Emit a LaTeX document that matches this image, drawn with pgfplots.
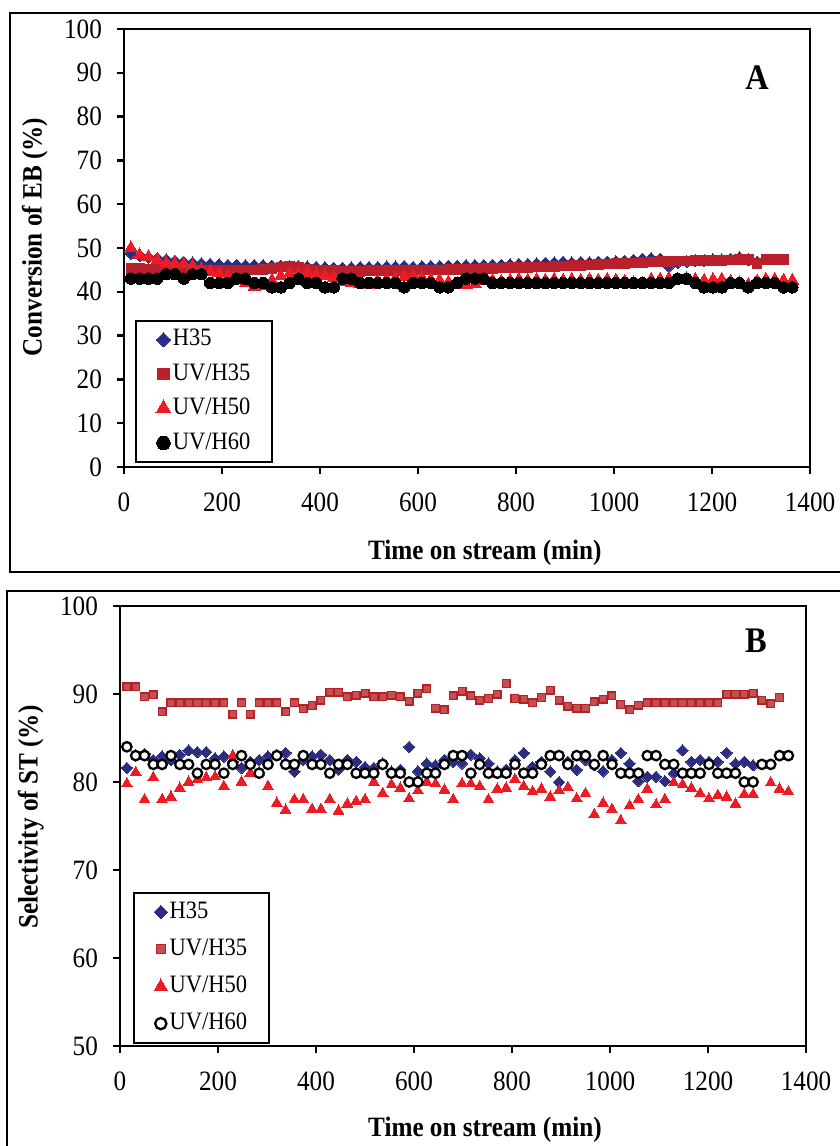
\documentclass[border=0pt]{standalone}
\usepackage{fontspec}
\setmainfont{Liberation Serif}[FakeStretch=0.9]
\usepackage{pgfplots}
\pgfplotsset{compat=1.18}
\usepackage{pgfplotstable}

\definecolor{hnavy}{RGB}{43,45,128}
\definecolor{uvsq}{RGB}{185,32,43}
\definecolor{uvsqfill}{RGB}{196,80,80}
\definecolor{uvsqdraw}{RGB}{178,34,40}
\definecolor{uvtri}{RGB}{237,28,36}

\pgfplotstableread{
t h35 uvh35 uvh50 uvh60
14 48.8 45.3 50.0 43
32 48.3 45.3 48.4 43
50 47.9 45.2 48.0 43
68 47.6 45.2 47.3 43
86 47.3 45.1 46.6 44
104 47.0 45.1 46.4 44
122 46.8 45.0 46.3 43
140 46.6 45.0 45.9 44
158 46.4 45.0 45.2 44
176 46.3 45.0 44.6 42
194 46.2 44.9 44.2 42
212 46.1 44.9 43.5 42
230 46.1 45.0 43.0 43
248 46.0 45.0 42.0 43
266 46.0 45.0 41.2 42
284 46.0 45.1 41.4 42
302 45.9 45.3 42.6 41
320 45.9 45.7 43.6 41
338 45.8 45.9 44.2 42
356 45.8 45.6 44.0 43
374 45.7 45.2 44.4 42
392 45.6 45.0 43.8 42
410 45.5 44.9 43.6 41
428 45.4 44.8 43.2 41
446 45.4 44.7 42.2 43
464 45.5 44.7 42.0 43
482 45.6 44.7 41.8 42
500 45.6 44.8 41.6 42
518 45.6 44.8 42.4 42
536 45.7 44.8 42.8 42
554 45.7 44.9 43.0 42
572 45.8 44.9 43.4 41
590 45.6 44.9 43.6 42
608 45.7 45.0 43.2 42
626 45.8 45.0 42.8 42
644 45.8 45.0 42.6 41
662 45.9 45.1 42.2 41
680 45.9 45.1 41.8 42
698 46.0 45.1 41.6 43
716 46.0 45.2 41.8 43
734 46.0 45.3 42.4 43
752 46.1 45.3 42.6 42
770 46.1 45.4 42.4 42
788 46.2 45.5 42.6 42
806 46.3 45.5 42.8 42
824 46.3 45.6 42.6 42
842 46.4 45.7 42.8 42
860 46.5 45.7 42.6 42
878 46.6 45.8 42.8 42
896 46.8 45.9 42.6 42
914 46.6 46.0 42.8 42
932 46.7 46.0 42.6 42
950 46.7 46.1 42.8 42
968 46.8 46.2 42.6 42
986 46.8 46.3 42.8 42
1004 46.9 46.4 42.6 42
1022 47.0 46.5 42.4 42
1040 47.2 46.6 42.0 42
1058 47.5 46.7 41.8 42
1076 47.6 46.8 42.8 42
1094 47.5 46.9 42.8 42
1112 45.8 46.9 43.0 42
1130 46.7 47.0 42.8 43
1148 46.9 47.0 43.0 43
1166 47.1 47.1 42.8 42
1184 47.1 47.1 42.6 41
1202 47.3 47.2 42.8 41
1220 47.3 47.2 42.8 41
1238 47.5 47.3 42.4 42
1256 47.8 47.4 42.0 42
1274 47.3 47.4 41.6 41
1292 46.8 46.5 42.4 42
1310 nan 47.4 42.8 42
1328 nan 47.4 42.8 42
1346 nan 47.4 42.6 41
1364 nan nan 42.6 41
}\dataA

\pgfplotstableread{
t h35 uvh35 uvh50 uvh60
14 81.6 90.8 79.8 84
32 83.0 90.8 81.1 83
50 83.2 89.7 78.0 83
68 82.5 89.9 80.5 82
86 82.9 88.0 78.0 82
104 82.5 89.0 78.3 83
122 83.1 89.0 79.3 82
140 83.6 89.0 80.0 82
158 83.4 89.0 80.3 81
176 83.4 89.0 80.5 82
194 82.7 89.0 80.6 82
212 82.9 89.0 79.5 81
230 82.3 87.7 83.0 82
248 81.6 89.0 80.0 83
266 82.3 87.7 81.0 82
284 82.5 89.0 81.1 81
302 82.9 89.0 79.5 82
320 83.1 89.0 77.6 83
338 83.3 88.0 76.8 82
356 81.2 89.0 78.0 82
374 82.5 88.3 78.0 83
392 82.9 88.7 76.9 82
410 83.1 89.3 76.9 82
428 82.5 90.2 78.0 81
446 81.4 90.2 76.7 82
464 82.5 89.7 77.5 82
482 82.3 89.85 77.8 81
500 81.7 90.1 78.0 81
518 81.6 89.7 80.0 81
536 82.1 89.7 78.7 82
554 81.2 89.85 79.7 81
572 81.4 89.7 79.3 81
590 84.0 89.2 78.1 80
608 81.2 90.1 79.0 80
626 82.1 90.6 80.0 81
644 81.9 88.4 79.8 81
662 82.5 88.2 79.1 82
680 82.3 89.8 78.0 83
698 82.1 90.3 79.8 83
716 83.1 89.8 79.8 81
734 82.7 89.3 79.5 82
752 82.1 89.5 78.0 81
770 81.2 90.0 79.2 81
788 81.4 91.2 79.3 81
806 82.5 89.5 80.3 82
824 83.3 89.4 79.5 81
842 81.7 89.0 78.9 81
860 82.3 89.6 79.2 82
878 81.2 90.45 78.3 83
896 80.0 89.3 79.0 83
914 82.3 88.6 79.4 82
932 81.4 88.4 78.1 83
950 82.5 88.4 78.7 83
968 81.9 89.1 76.3 82
986 81.2 89.4 77.6 83
1004 82.5 89.8 76.9 82
1022 83.3 88.8 75.6 81
1040 82.1 88.2 77.3 81
1058 80.1 88.75 78.0 81
1076 80.6 89.0 79.2 83
1094 80.6 89.0 77.4 83
1112 80.1 89.0 78.0 82
1130 81.0 89.0 79.9 82
1148 83.6 89.0 79.7 81
1166 82.3 89.0 79.3 81
1184 82.5 89.0 78.7 81
1202 82.3 89.0 78.1 82
1220 82.3 89.0 78.5 81
1238 83.3 90.0 78.3 81
1256 82.1 90.0 77.5 81
1274 82.3 90.0 78.6 80
1292 81.9 90.1 78.6 80
1310 nan 89.3 nan 82
1328 nan 88.9 79.9 82
1346 nan 89.6 79.2 83
1364 nan nan 78.9 83
}\dataB

\pgfplotsset{
  panel/.style={
    scale only axis, width=343pt,
    xmin=0, xmax=1400, xtick={0,200,...,1400},
    xtick pos=bottom, ytick pos=left, tick align=outside,
    major tick length=3.5pt,
    axis line style={line width=1.4pt},
    every tick/.style={line width=1.2pt, black},
    /pgf/number format/assume math mode=true,
    /pgf/number format/1000 sep={},
    tick label style={font=\fontsize{14}{14}\selectfont},
    xticklabel style={yshift=-6pt},
    yticklabel style={xshift=-4pt},
    xlabel={Time on stream (min)},
    legend cell align=left,
    legend image code/.code={\draw[##1, every mark/.append style={scale=1.2}] plot coordinates {(0.14cm,0cm)};},
    legend style={draw=black, line width=1pt, anchor=north west,
      font=\fontsize{12.5}{12.5}\selectfont, inner xsep=10pt, inner ysep=3pt,
      row sep=4.2pt, nodes={inner sep=1pt, text height=8.5pt, text depth=2.5pt}},
  },
}

\begin{document}
\begin{tikzpicture}
\useasboundingbox (0,0) rectangle (420pt,573pt);
\draw[line width=1pt] (5pt,287pt) rectangle (435pt,566.5pt);
\draw[line width=1pt] (3.5pt,-10pt) rectangle (435pt,277.5pt);

\begin{axis}[panel, at={(62pt,339.5pt)}, anchor=south west, height=219pt,
  ymin=0, ymax=100, ytick={0,10,...,100},
  ylabel={Conversion of EB (\%)},
  every axis y label/.style={at={(axis description cs:-0.13,0.525)}, rotate=90, anchor=center, font=\bfseries\fontsize{14}{14}\selectfont},
  every axis x label/.style={at={(axis description cs:0.526,-0.196)}, anchor=center, font=\bfseries\fontsize{14}{14}\selectfont},
  legend style={at={(axis description cs:0.016,0.336)}},
]
\addplot[only marks, mark=square*, mark size=2.1pt, mark options={rotate=45, fill=hnavy, draw=hnavy, line width=0pt}] table[x=t,y=h35] {\dataA};
\addplot[only marks, mark=square*, mark size=2.4pt, mark options={fill=uvsq, draw=uvsq, line width=0pt}] table[x=t,y=uvh35] {\dataA};
\addplot[only marks, mark=triangle*, mark size=3.6pt, mark options={fill=uvtri, draw=uvtri, line width=0pt}] table[x=t,y=uvh50] {\dataA};
\addplot[only marks, mark=*, mark size=2.85pt, mark options={fill=black, draw=black, line width=0pt}] table[x=t,y=uvh60] {\dataA};
\legend{H35,UV/H35,UV/H50,UV/H60}
\node[font=\bfseries\fontsize{18}{18}\selectfont] at (axis description cs:0.923,0.888) {A};
\end{axis}

\begin{axis}[panel, at={(60pt,50pt)}, anchor=south west, height=220pt,
  ymin=50, ymax=100, ytick={50,60,...,100},
  ylabel={Selectivity of ST (\%)},
  every axis y label/.style={at={(axis description cs:-0.13,0.52)}, rotate=90, anchor=center, font=\bfseries\fontsize{14}{14}\selectfont},
  every axis x label/.style={at={(axis description cs:0.532,-0.19)}, anchor=center, font=\bfseries\fontsize{14}{14}\selectfont},
  legend style={at={(axis description cs:0.019,0.35)}, row sep=5.6pt},
]
\addplot[only marks, mark=square*, mark size=2.0pt, mark options={rotate=45, fill=hnavy, draw=hnavy, line width=0pt}] table[x=t,y=h35] {\dataB};
\addplot[only marks, mark=square*, mark size=1.9pt, mark options={fill=uvsqfill, draw=uvsqdraw, line width=0.7pt}] table[x=t,y=uvh35] {\dataB};
\addplot[only marks, mark=triangle*, mark size=3.1pt, mark options={fill=uvtri, draw=uvtri, line width=0pt}] table[x=t,y=uvh50] {\dataB};
\addplot[only marks, mark=*, mark size=2.35pt, mark options={fill=white, draw=black, line width=1.15pt}] table[x=t,y=uvh60] {\dataB};
\legend{H35,UV/H35,UV/H50,UV/H60}
\node[font=\bfseries\fontsize{18}{18}\selectfont] at (axis description cs:0.927,0.92) {B};
\end{axis}
\end{tikzpicture}
\end{document}
